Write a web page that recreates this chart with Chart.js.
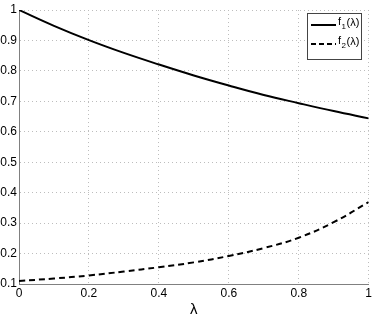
<!DOCTYPE html>
<html>
<head>
<meta charset="utf-8">
<script src="https://cdn.jsdelivr.net/npm/chart.js@4.4.0/dist/chart.umd.min.js"></script>
<style>
html,body{margin:0;padding:0;background:#fff;}
#wrap{width:374px;height:319px;position:relative;}
</style>
</head>
<body>
<div id="wrap"><canvas id="c" width="374" height="319"></canvas></div>
<script>
const lambda = [0, 0.1, 0.2, 0.3, 0.4, 0.5, 0.6, 0.7, 0.8, 0.9, 1.0];
const f1 = [1.000, 0.948, 0.901, 0.859, 0.821, 0.785, 0.752, 0.721, 0.694, 0.668, 0.644];
const f2 = [0.110, 0.118, 0.128, 0.141, 0.155, 0.171, 0.192, 0.218, 0.252, 0.303, 0.369];
const xTicks = [0, 0.2, 0.4, 0.6, 0.8, 1];
const xTickLabels = ['0', '0.2', '0.4', '0.6', '0.8', '1'];
const yTicks = [0.1, 0.2, 0.3, 0.4, 0.5, 0.6, 0.7, 0.8, 0.9, 1];
const yTickLabels = ['0.1', '0.2', '0.3', '0.4', '0.5', '0.6', '0.7', '0.8', '0.9', '1'];
const seriesNames = ['f', 'f'];
const seriesSubs = ['1', '2'];
const seriesSuffix = '(λ)';
const xTitle = 'λ';

const FONT = '"Liberation Sans", Arial, Helvetica, sans-serif';

const legendPlugin = {
  id: 'matlabLegend',
  afterDraw(chart) {
    const ctx = chart.ctx;
    const bx = 307.5, by = 13.5, bw = 54, bh = 46;
    ctx.save();
    ctx.fillStyle = '#fff';
    ctx.fillRect(bx, by, bw, bh);
    ctx.strokeStyle = '#444';
    ctx.lineWidth = 1;
    ctx.strokeRect(bx, by, bw, bh);
    const rows = [25, 44];
    const dashes = [[], [5, 3]];
    for (let i = 0; i < 2; i++) {
      const y = rows[i];
      ctx.strokeStyle = '#000';
      ctx.lineWidth = 2;
      ctx.setLineDash(dashes[i]);
      ctx.beginPath();
      ctx.moveTo(311, y);
      ctx.lineTo(336, y);
      ctx.stroke();
      ctx.setLineDash([]);
      ctx.fillStyle = '#000';
      ctx.textBaseline = 'alphabetic';
      ctx.textAlign = 'left';
      ctx.font = '11px ' + FONT;
      let x = 338;
      ctx.fillText(seriesNames[i], x, y + 0);
      x += ctx.measureText(seriesNames[i]).width + 0.5;
      ctx.font = '8px ' + FONT;
      ctx.fillText(seriesSubs[i], x, y + 4);
      x += ctx.measureText(seriesSubs[i]).width + 0.5;
      ctx.font = '11px ' + FONT;
      ctx.fillText(seriesSuffix, x, y + 1);
    }
    ctx.restore();
  }
};

const toPts = (ys) => lambda.map((x, i) => ({x: x, y: ys[i]}));

new Chart(document.getElementById('c'), {
  type: 'line',
  data: {
    datasets: [
      {label: 'f1(λ)', data: toPts(f1), borderColor: '#000', borderWidth: 2, pointRadius: 0, tension: 0.4, fill: false},
      {label: 'f2(λ)', data: toPts(f2), borderColor: '#000', borderWidth: 2, borderDash: [6, 4], pointRadius: 0, tension: 0.4, fill: false}
    ]
  },
  options: {
    responsive: false,
    animation: false,
    devicePixelRatio: 1,
    layout: {padding: {top: 10, right: 5, left: 0, bottom: 0}},
    plugins: {legend: {display: false}, tooltip: {enabled: false}},
    scales: {
      x: {
        type: 'linear', min: 0, max: 1,
        afterBuildTicks(s) { s.ticks = xTicks.map(v => ({value: v})); },
        afterFit(s) { s.height = 35; },
        ticks: {
          callback: (v) => { const i = xTicks.indexOf(v); return i >= 0 ? xTickLabels[i] : ''; },
          color: '#000', font: {family: FONT, size: 12}, padding: 2, maxRotation: 0, autoSkip: false
        },
        grid: {color: '#bdbdbd', drawTicks: false, lineWidth: 1},
        border: {display: true, color: '#808080', width: 1, dash: [1, 3]},
        title: {display: true, text: xTitle, color: '#000', font: {family: FONT, size: 15}, padding: {top: 0, bottom: 0}}
      },
      y: {
        type: 'linear', min: 0.1, max: 1,
        afterBuildTicks(s) { s.ticks = yTicks.map(v => ({value: v})); },
        afterFit(s) { s.width = 19; },
        ticks: {
          callback: (v) => { const i = yTicks.findIndex(t => Math.abs(t - v) < 1e-9); return i >= 0 ? yTickLabels[i] : ''; },
          color: '#000', font: {family: FONT, size: 12}, padding: 2, autoSkip: false
        },
        grid: {color: '#bdbdbd', drawTicks: false, lineWidth: 1},
        border: {display: true, color: '#808080', width: 1, dash: [1, 3]}
      }
    }
  },
  plugins: [legendPlugin]
});
</script>
</body>
</html>
